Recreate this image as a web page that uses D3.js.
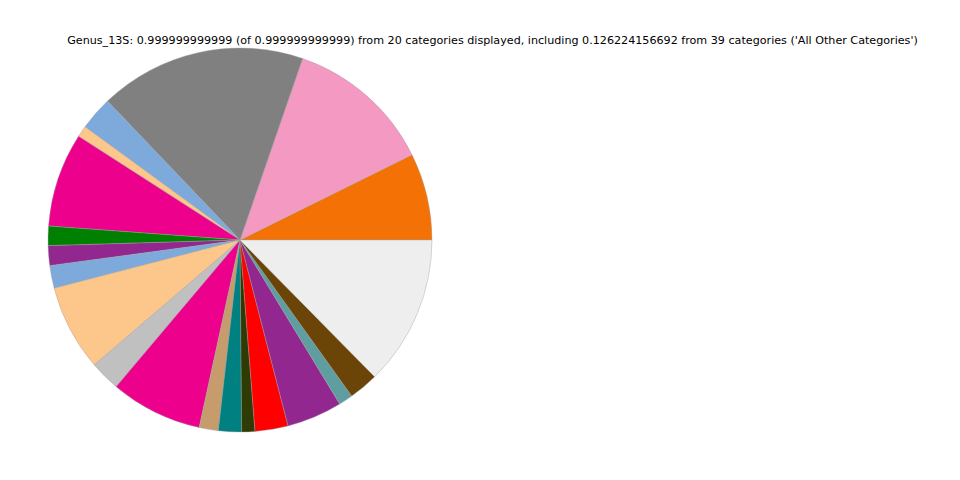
<!DOCTYPE html>
<html>
<head>
<meta charset="utf-8">
<script src="https://cdn.jsdelivr.net/npm/d3@7"></script>
<style>
html,body{margin:0;padding:0;background:#fff;}
svg{display:block;}
</style>
</head>
<body>
<svg id="chart" width="960" height="480"></svg>
<script>
const categories = ["Cat01","Cat02","Cat03","Cat04","Cat05","Cat06","Cat07","Cat08","Cat09","Cat10",
  "Cat11","Cat12","Cat13","Cat14","Cat15","Cat16","Cat17","Cat18","Cat19","All Other Categories"];
const values = [0.0732,0.1239,0.1742,0.0283,0.0095,0.0793,0.0163,0.0167,0.0191,0.0723,
  0.0256,0.0775,0.0161,0.0194,0.0111,0.0278,0.0467,0.0119,0.0249,0.126224156692];
const colors = ["#f47205","#f49ac2","#808080","#7eaadb","#fdc68a","#ec008c","#008000","#92278f","#7eaadb","#fdc68a",
  "#c0c0c0","#ec008c","#c69c6d","#008080","#2e3b04","#ff0000","#92278f","#5f9ea0","#6b4508","#eeeeee"];
const titleText = "Genus_13S: 0.999999999999 (of 0.999999999999) from 20 categories displayed, including 0.126224156692 from 39 categories ('All Other Categories')";

const svg = d3.select("#chart");
const cx = 240, cy = 240, r = 192;

const pie = d3.pie().sort(null).value(d => d.v)
  .startAngle(Math.PI/2).endAngle(Math.PI/2 - 2*Math.PI);
const data = categories.map((c,i) => ({c, v: values[i], col: colors[i]}));
const arc = d3.arc().innerRadius(0).outerRadius(r);

const g = svg.append("g").attr("transform", `translate(${cx},${cy})`);
g.selectAll("path").data(pie(data)).join("path")
  .attr("d", arc)
  .attr("fill", d => d.data.col)
  .attr("stroke", "#a0a0a0")
  .attr("stroke-width", 0.4)
  .attr("stroke-linejoin", "round");

svg.append("text")
  .attr("x", 492.5).attr("y", 43.5)
  .attr("text-anchor", "middle")
  .attr("font-family", "DejaVu Sans")
  .attr("font-size", 11.15)
  .attr("fill", "#000")
  .text(titleText);
</script>
</body>
</html>
